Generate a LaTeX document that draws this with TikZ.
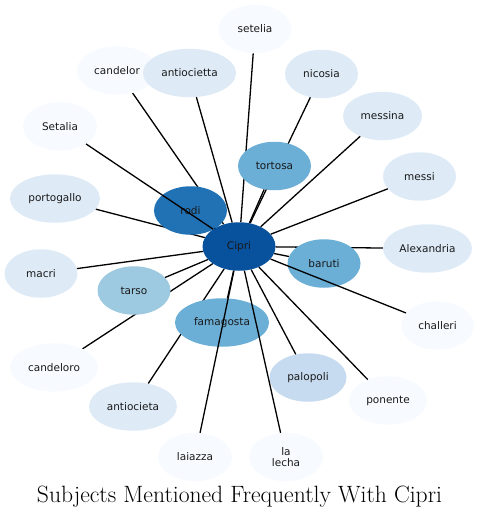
\documentclass[tikz,border=0pt]{standalone}
\usepackage{fontspec}
\newfontfamily\lblfont{DejaVu Sans}
\usetikzlibrary{shapes.geometric}
\pgfdeclarelayer{background}
\pgfsetlayers{background,main}
\definecolor{c1}{HTML}{08519C}
\definecolor{c2}{HTML}{2171B5}
\definecolor{c3}{HTML}{6BAED6}
\definecolor{c4}{HTML}{9ECAE1}
\definecolor{c5}{HTML}{C6DBEF}
\definecolor{c6}{HTML}{DEEBF7}
\definecolor{c7}{HTML}{F7FBFF}
\tikzset{
  bub/.style={ellipse, draw=none, inner sep=0pt, minimum height=48.5pt,
    minimum width=#1, font=\lblfont\fontsize{10.5}{13}\selectfont, text=black!90, align=center},
  bub/.default=73pt,
  lnk/.style={draw=black, line width=1.3pt}
}
\begin{document}
\begin{tikzpicture}[x=1pt,y=-1pt]
\useasboundingbox (0,0) rectangle (479,517);
\node[bub,fill=c1] (cipri) at (239,246.5) {Cipri};
\node[bub,fill=c2] (rodi) at (190.5,210.5) {rodi};
\node[bub,fill=c3] (tortosa) at (274.5,166) {tortosa};
\node[bub,fill=c3] (baruti) at (324,263.5) {baruti};
\node[bub,fill=c4] (tarso) at (134,290.5) {tarso};
\node[bub=94pt,fill=c3] (famagosta) at (222,322.5) {famagosta};
\node[bub=77pt,fill=c5] (palopoli) at (308,377.5) {palopoli};
\node[bub,fill=c7] (setelia) at (255,29) {setelia};
\node[bub,fill=c6] (nicosia) at (321.5,74) {nicosia};
\node[bub=79pt,fill=c6] (messina) at (382.5,116) {messina};
\node[bub,fill=c6] (messi) at (419.5,176.5) {messi};
\node[bub=89pt,fill=c6] (alexandria) at (427.5,248.5) {Alexandria};
\node[bub,fill=c7] (challeri) at (437.5,325.5) {challeri};
\node[bub=78pt,fill=c7] (ponente) at (388,400.5) {ponente};
\node[bub=74pt,fill=c7] (lalecha) at (286,457) {la\\[-1.5pt]lecha};
\node[bub=74pt,fill=c7] (laiazza) at (195,457) {laiazza};
\node[bub=88pt,fill=c6] (antiocieta) at (133,406.5) {antiocieta};
\node[bub=88pt,fill=c7] (candeloro) at (54,367.5) {candeloro};
\node[bub,fill=c6] (macri) at (41,273.5) {macri};
\node[bub=90pt,fill=c6] (portogallo) at (55,198.5) {portogallo};
\node[bub=74pt,fill=c7] (setalia) at (60,126.5) {Setalia};
\node[bub=80pt,fill=c7] (candelor) at (117,70.5) {candelor};
\node[bub=93pt,fill=c6] (antiocietta) at (189.5,73) {antiocietta};
% edges passing under other nodes
\begin{pgfonlayer}{background}
\foreach \t in {candelor,portogallo,alexandria,setelia,nicosia,candeloro,antiocieta}
  \draw[lnk] (cipri) -- (\t);
\end{pgfonlayer}
% other edges
\foreach \t in {rodi,tortosa,baruti,tarso,famagosta,palopoli,messina,messi,challeri,ponente,lalecha,laiazza,macri,setalia,antiocietta}
  \draw[lnk] (cipri) -- (\t);
\node[anchor=base, font=\fontsize{23.6}{28}\selectfont] (title) at (239.5,502) {Subjects Mentioned Frequently With Cipri};
\end{tikzpicture}
\end{document}
